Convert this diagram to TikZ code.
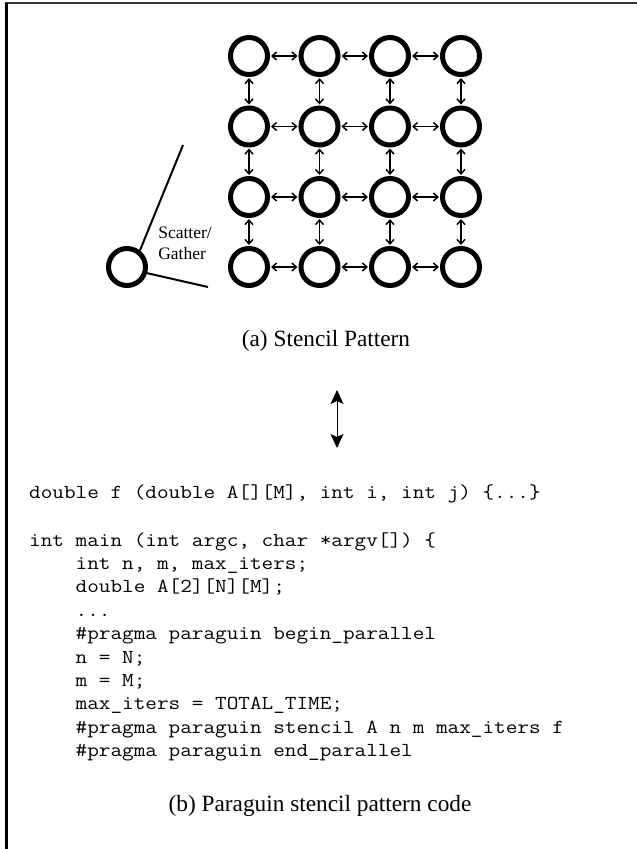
\documentclass[tikz,border=0pt]{standalone}
\usepackage{fontspec}
\setmainfont{Liberation Serif}
\setmonofont{Latin Modern Mono}[FakeStretch=1.14]
\usetikzlibrary{arrows.meta}
\begin{document}
\begin{tikzpicture}[x=1pt,y=-1pt,
  cell/.style={circle,draw,line width=5pt,minimum size=37pt,inner sep=0pt},
  link/.style={{Straight Barb[length=4.5pt,width=8pt]}-{Straight Barb[length=4.5pt,width=8pt]},line width=1.5pt,shorten <=1pt,shorten >=1pt},
  bigarrow/.style={{Stealth[length=14pt,width=13pt,inset=3pt]}-{Stealth[length=14pt,width=13pt,inset=3pt]},line width=1pt},
  codeline/.style={anchor=base west,inner sep=0pt,font=\fontsize{19.8}{23}\ttfamily},
  caption/.style={anchor=base,inner sep=0pt,font=\fontsize{23.3}{27}\selectfont}]
\useasboundingbox (0,0) rectangle (637,849);
% frame
\draw[line width=2pt,black!80] (5,3) -- (637,3);
\draw[line width=2.2pt] (6.5,3) -- (6.5,849);
% grid
\foreach \r/\y in {1/56,2/126.5,3/197,4/267}{
  \foreach \c/\x in {1/249,2/319.5,3/390,4/461}{
    \node[cell] (n\r\c) at (\x,\y) {};
  }
}
\foreach \r in {1,2,3,4}{
  \draw[link] (n\r1) -- (n\r2);
  \draw[link] (n\r2) -- (n\r3);
  \draw[link] (n\r3) -- (n\r4);
}
\foreach \c in {1,2,3,4}{
  \draw[link] (n1\c) -- (n2\c);
  \draw[link] (n2\c) -- (n3\c);
  \draw[link] (n3\c) -- (n4\c);
}
% scatter/gather
\node[cell] (lone) at (127,267) {};
\coordinate (sgtop) at (183,145);
\coordinate (sgbot) at (208,287);
\draw[line width=2pt] (lone.52) -- (sgtop);
\draw[line width=2pt] (lone.-17) -- (sgbot);
\node[align=left,inner sep=0pt,font=\fontsize{17.5}{21}\selectfont] (sg) at (185,243) {Scatter/\\Gather};
\node[caption] (capa) at (326,346) {(a) Stencil Pattern};
% big arrow
\coordinate (atop) at (337,390);
\coordinate (abot) at (337,448);
\draw[bigarrow] (atop) -- (abot);
% code
\node[codeline] (l0) at (29,498) {double f (double A[][M], int i, int j) \{...\}};
\node[codeline] (l1) at (29,546) {int main (int argc, char *argv[]) \{};
\node[codeline] (l2) at (29,569.4) {\hphantom{int }int n, m, max\_iters;};
\node[codeline] (l3) at (29,592.8) {\hphantom{int }double A[2][N][M];};
\node[codeline] (l4) at (29,616.2) {\hphantom{int }...};
\node[codeline] (l5) at (29,639.6) {\hphantom{int }\#pragma paraguin begin\_parallel};
\node[codeline] (l6) at (29,663) {\hphantom{int }n = N;};
\node[codeline] (l7) at (29,686.4) {\hphantom{int }m = M;};
\node[codeline] (l8) at (29,709.8) {\hphantom{int }max\_iters = TOTAL\_TIME;};
\node[codeline] (l9) at (29,733.2) {\hphantom{int }\#pragma paraguin stencil A n m max\_iters f};
\node[codeline] (l10) at (29,756.6) {\hphantom{int }\#pragma paraguin end\_parallel};
\node[caption] (capb) at (320,811) {(b) Paraguin stencil pattern code};
\end{tikzpicture}
\end{document}
